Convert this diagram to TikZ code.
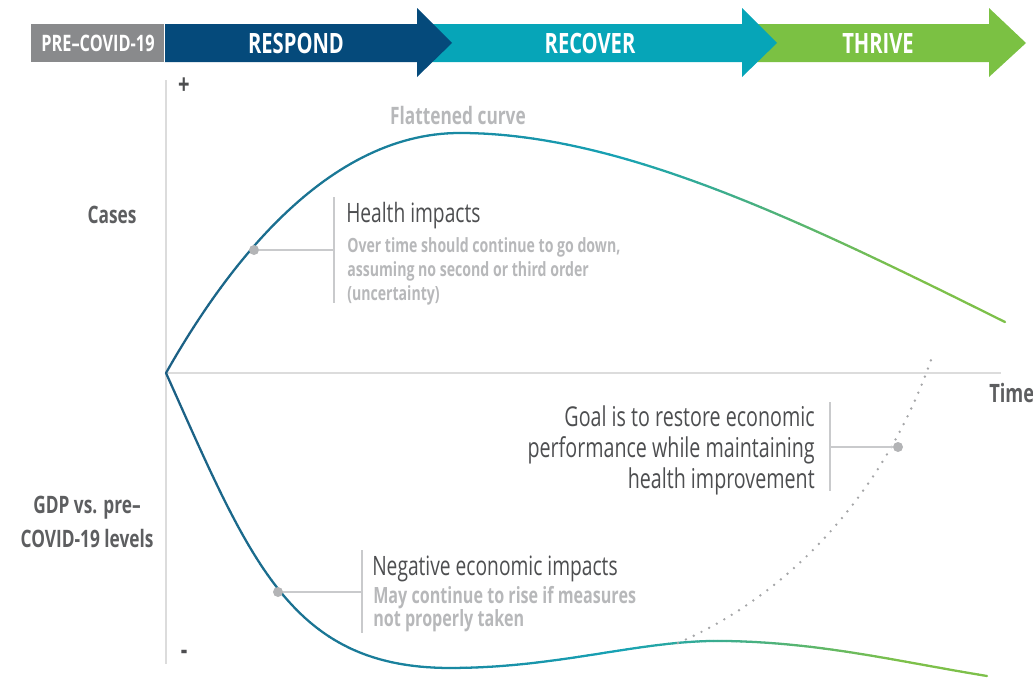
\documentclass[tikz,border=0pt]{standalone}
\usepackage{fontspec}
\setmainfont{Open Sans}[FakeStretch=0.72]
\definecolor{cpre}{HTML}{898A8C}
\definecolor{cresp}{HTML}{054A7B}
\definecolor{crec}{HTML}{06A5B8}
\definecolor{cthr}{HTML}{7BC143}
\definecolor{cdark}{HTML}{1C5F84}
\definecolor{cteal}{HTML}{17A2B4}
\definecolor{cgreen}{HTML}{7DC04A}
\definecolor{axisc}{HTML}{DCDCDC}
\definecolor{darktext}{HTML}{4D4E50}
\definecolor{labeltext}{HTML}{5D5E60}
\definecolor{lighttext}{HTML}{B7B8BA}
\definecolor{leadc}{HTML}{C9CACC}
\definecolor{dotc}{HTML}{B3B4B6}
\definecolor{dotlinec}{HTML}{A5A6A8}
\tikzset{
  banner/.style={text=white, font=\bfseries\fontsize{17}{20}\selectfont, inner sep=0pt},
  bannerbig/.style={text=white, font=\bfseries\fontsize{21}{24}\selectfont, inner sep=0pt},
  axislab/.style={text=labeltext, font=\bfseries\fontsize{18}{26}\selectfont, inner sep=0pt, align=center},
  anntitle/.style={text=darktext, font=\fontsize{20}{24}\selectfont, inner sep=0pt},
  annsub/.style={text=lighttext, font=\bfseries\fontsize{14.7}{18}\selectfont, inner sep=0pt, align=left},
  axisline/.style={draw=axisc, line width=1pt},
  leader/.style={draw=leadc, line width=1pt},
  pointdot/.style={circle, fill=dotc, inner sep=0pt, minimum size=7.5pt},
  curveseg/.style={line width=1.7pt, line cap=round},
  dotline/.style={draw=dotlinec, line width=2pt, line cap=round, dash pattern=on 0pt off 6.5pt}
}
\newcommand\gradbez[8]{%
  \foreach \i in {0,...,59}{%
    \pgfmathsetmacro\ta{\i/60}%
    \pgfmathsetmacro\tb{(\i+1)/60}%
    \pgfmathsetmacro\xa{(1-\ta)^3*#1+3*(1-\ta)^2*\ta*#3+3*(1-\ta)*\ta^2*#5+\ta^3*#7}%
    \pgfmathsetmacro\ya{(1-\ta)^3*#2+3*(1-\ta)^2*\ta*#4+3*(1-\ta)*\ta^2*#6+\ta^3*#8}%
    \pgfmathsetmacro\xb{(1-\tb)^3*#1+3*(1-\tb)^2*\tb*#3+3*(1-\tb)*\tb^2*#5+\tb^3*#7}%
    \pgfmathsetmacro\yb{(1-\tb)^3*#2+3*(1-\tb)^2*\tb*#4+3*(1-\tb)*\tb^2*#6+\tb^3*#8}%
    \pgfmathsetmacro\xm{(\xa+\xb)/2}%
    \pgfmathtruncatemacro\pa{max(0,min(100,(\xm-166)/4.54))}%
    \pgfmathtruncatemacro\pb{max(0,min(100,(\xm-620)/2.8))}%
    \colorlet{sca}{cteal!\pa!cdark}%
    \colorlet{scb}{cgreen!\pb!sca}%
    \draw[curveseg, scb] (\xa,\ya) -- (\xb,\yb);
  }%
}
\begin{document}
\begin{tikzpicture}[x=0.75pt, y=-0.75pt]
\useasboundingbox (0,0) rectangle (1033,678);
% banner
\fill[cthr] (742,24) -- (989,24) -- (989,8) -- (1026,43) -- (989,77) -- (989,62) -- (742,62) -- cycle;
\fill[crec] (417,24) -- (742,24) -- (742,8) -- (777,43) -- (742,77) -- (742,62) -- (417,62) -- cycle;
\fill[cresp] (165,24) -- (417,24) -- (417,8) -- (452,43) -- (417,77) -- (417,62) -- (165,62) -- cycle;
\fill[cpre] (31,24) rectangle (164,62);
\node[banner] (pre) at (98,43.5) {PRE–COVID-19};
\node[bannerbig] (respond) at (296,43.5) {RESPOND};
\node[bannerbig] (recover) at (590,43.5) {RECOVER};
\node[bannerbig] (thrive) at (878,43.5) {THRIVE};
% axes
\coordinate (ytop) at (166,80);
\coordinate (ybot) at (166,664);
\coordinate (origin) at (166,373);
\coordinate (xend) at (1001,373);
\draw[axisline] (ytop) -- (ybot);
\draw[axisline] (origin) -- (xend);
\node[text=darktext, font=\bfseries\fontsize{21}{22}\selectfont, inner sep=0pt] (plus) at (184,86) {+};
\node[text=darktext, font=\bfseries\fontsize{21}{22}\selectfont, inner sep=0pt] (minus) at (184,655) {-};
\node[axislab] (cases) at (112,215) {Cases};
\node[axislab] (gdp) at (87,522) {GDP vs. pre–\\COVID-19 levels};
\node[axislab, font=\bfseries\fontsize{19}{22}\selectfont, anchor=base west] (time) at (989,402) {Time};
% curves
\gradbez{166}{373}{230}{260}{330}{133}{460}{133}
\gradbez{460}{133}{620}{133}{800}{220}{1005}{322}
\gradbez{166}{373}{250}{560}{290}{668}{450}{668}
\gradbez{450}{668}{560}{668}{640}{640}{722}{641}
\gradbez{722}{641}{820}{642}{900}{662}{987}{676}
\draw[dotline] (678,643) .. controls (800,590) and (890,480) .. (932,357);
\node[text=lighttext, font=\bfseries\fontsize{18}{20}\selectfont, inner sep=0pt] (flat) at (458,115) {Flattened curve};
% health annotation
\coordinate (hbar) at (334,250);
\coordinate (htop) at (334,197);
\coordinate (hbot) at (334,303);
\draw[leader] (htop) -- (hbot);
\node[pointdot] (hdot) at (254,250) {};
\draw[leader] (hdot) -- (hbar);
\node[anntitle, anchor=base west] (htitle) at (346,222) {Health impacts};
\node[annsub, anchor=base west] (hsub1) at (347,252) {Over time should continue to go down,};
\node[annsub, anchor=base west] (hsub2) at (347,276) {assuming no second or third order};
\node[annsub, anchor=base west] (hsub3) at (347,300) {(uncertainty)};
% negative annotation
\coordinate (nbar) at (362,592);
\coordinate (ntop) at (362,550);
\coordinate (nbot) at (362,633);
\draw[leader] (ntop) -- (nbot);
\node[pointdot] (ndot) at (278,592) {};
\draw[leader] (ndot) -- (nbar);
\node[anntitle, anchor=base west] (ntitle) at (372,575) {Negative economic impacts};
\node[annsub, font=\bfseries\fontsize{16.8}{20}\selectfont, anchor=base west] (nsub1) at (373,603) {May continue to rise if measures};
\node[annsub, font=\bfseries\fontsize{16.8}{20}\selectfont, anchor=base west] (nsub2) at (373,626) {not properly taken};
% goal annotation
\coordinate (gbar) at (830,447);
\coordinate (gtop) at (830,402);
\coordinate (gbot) at (830,491);
\draw[leader] (gtop) -- (gbot);
\node[pointdot] (gdot) at (898,447) {};
\draw[leader] (gdot) -- (gbar);
\node[anntitle, font=\fontsize{20.5}{24}\selectfont, anchor=base east] (g1) at (815,426) {Goal is to restore economic};
\node[anntitle, font=\fontsize{20.5}{24}\selectfont, anchor=base east] (g2) at (815,457) {performance while maintaining};
\node[anntitle, font=\fontsize{20.5}{24}\selectfont, anchor=base east] (g3) at (815,488) {health improvement};
\end{tikzpicture}
\end{document}
